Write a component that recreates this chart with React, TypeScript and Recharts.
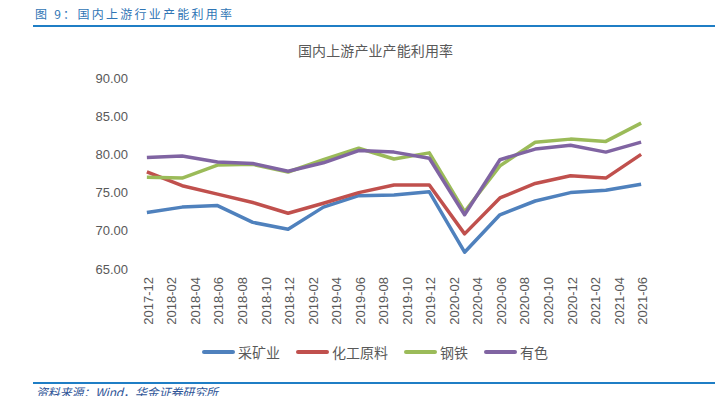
import React from 'react';
import { LineChart, Line, XAxis, YAxis } from 'recharts';

const quarters = [
  '2017-12', '2018-03', '2018-06', '2018-09', '2018-12', '2019-03', '2019-06', '2019-09',
  '2019-12', '2020-03', '2020-06', '2020-09', '2020-12', '2021-03', '2021-06',
];
const mining = [72.4, 73.1, 73.3, 71.1, 70.2, 73.1, 74.6, 74.7, 75.1, 67.2, 72.1, 73.9, 75.0, 75.3, 76.1];
const chemical = [77.7, 75.9, 74.8, 73.7, 72.3, 73.6, 75.0, 76.0, 76.0, 69.6, 74.3, 76.2, 77.2, 76.9, 80.0];
const steel = [77.0, 76.9, 78.6, 78.7, 77.7, 79.3, 80.8, 79.4, 80.2, 72.5, 78.5, 81.6, 82.0, 81.7, 84.1];
const nonferrous = [79.6, 79.8, 79.0, 78.8, 77.8, 78.9, 80.5, 80.3, 79.5, 72.1, 79.3, 80.7, 81.2, 80.3, 81.6];

const tickLabels = [
  '2017-12', '2018-02', '2018-04', '2018-06', '2018-08', '2018-10', '2018-12', '2019-02',
  '2019-04', '2019-06', '2019-08', '2019-10', '2019-12', '2020-02', '2020-04', '2020-06',
  '2020-08', '2020-10', '2020-12', '2021-02', '2021-04', '2021-06',
];
const yTicks = [65, 70, 75, 80, 85, 90];

const seriesNames = ['采矿业', '化工原料', '钢铁', '有色'];
const seriesColors = ['#4F81BD', '#C0504D', '#9BBB59', '#8064A2'];
const seriesKeys = ['mining', 'chemical', 'steel', 'nonferrous'];

const monthIndex = (s: string) => {
  const [y, m] = s.split('-').map(Number);
  return (y - 2017) * 12 + m - 12;
};

const data = quarters.map((q, i) => ({
  m: monthIndex(q),
  mining: mining[i],
  chemical: chemical[i],
  steel: steel[i],
  nonferrous: nonferrous[i],
}));

const labelTicks = tickLabels.map(monthIndex);
const tickMarks = labelTicks.map((v) => v - 0.5);
const lastMonth = monthIndex(quarters[quarters.length - 1]);
const labelByIndex: Record<number, string> = {};
tickLabels.forEach((t) => (labelByIndex[monthIndex(t)] = t));

const FONT = '"Liberation Sans", "Noto Sans CJK SC", Arial, sans-serif';
const CJK = '"Noto Sans CJK SC", "Liberation Sans", sans-serif';

const RotTick = (props: any) => {
  const { x, y, payload } = props;
  return (
    <text
      x={x}
      y={y}
      dy={1.5}
      transform={`rotate(-90 ${x} ${y})`}
      textAnchor="end"
      dominantBaseline="central"
      fill="#595959"
      fontSize={13}
      fontFamily={FONT}
    >
      {labelByIndex[payload.value]}
    </text>
  );
};

export default function App() {
  return (
    <div style={{ position: 'absolute', left: 0, top: 0, width: 724, height: 396, background: '#fff', overflow: 'hidden' }}>
      <svg width={724} height={396} style={{ position: 'absolute', left: 0, top: 0 }}>
        <text
          x={35}
          y={19}
          fontSize={12}
          fill="#2F75B5"
          fontFamily={CJK}
          textLength={197}
          lengthAdjust="spacing"
        >
          图 9：国内上游行业产能利用率
        </text>
        <rect x={33} y={25} width={682} height={2} fill="#1F7EC5" />
        <text
          x={375.5}
          y={56}
          fontSize={14}
          fill="#595959"
          fontFamily={CJK}
          textAnchor="middle"
          textLength={155}
          lengthAdjust="spacing"
        >
          国内上游产业产能利用率
        </text>
        <rect x={33} y={382} width={682} height={2} fill="#1F7EC5" />
        <text
          x={36}
          y={397}
          fontSize={12}
          fontStyle="italic"
          fill="#2F5597"
          fontFamily={CJK}
          textLength={182}
          lengthAdjust="spacing"
        >
          资料来源：Wind，华金证券研究所
        </text>
      </svg>
      <div style={{ position: 'absolute', left: 0, top: 0 }}>
        <LineChart width={724} height={396} data={data} margin={{ top: 78, right: 77, bottom: 67, left: 0 }}>
          <XAxis
            xAxisId="tk"
            type="number"
            dataKey="m"
            domain={[-0.5, lastMonth + 0.5]}
            ticks={tickMarks}
            tick={false}
            tickSize={4}
            tickLine={{ stroke: '#D9D9D9' }}
            axisLine={{ stroke: '#D9D9D9' }}
            height={0}
            interval={0}
          />
          <XAxis
            xAxisId="lbl"
            type="number"
            dataKey="m"
            domain={[-0.5, lastMonth + 0.5]}
            ticks={labelTicks}
            tick={<RotTick />}
            tickLine={false}
            axisLine={false}
            height={60}
            interval={0}
          />
          <YAxis
            type="number"
            domain={[65, 90]}
            ticks={yTicks}
            width={141}
            axisLine={false}
            tickLine={false}
            tickMargin={7}
            tickFormatter={(v: number) => v.toFixed(2)}
            tick={{ fill: '#595959', fontSize: 13, fontFamily: FONT }}
            interval={0}
          />
          {seriesKeys.map((k, i) => (
            <Line
              key={k}
              xAxisId="lbl"
              type="linear"
              dataKey={k}
              stroke={seriesColors[i]}
              strokeWidth={3.5}
              dot={false}
              activeDot={false}
              isAnimationActive={false}
              strokeLinejoin="round"
            />
          ))}
        </LineChart>
      </div>
      <div
        style={{
          position: 'absolute', left: 202, top: 343, display: 'flex', alignItems: 'center',
          fontFamily: CJK, fontSize: 14, color: '#595959', lineHeight: '18px', whiteSpace: 'nowrap',
        }}
      >
        {seriesNames.map((n, i) => (
          <div key={n} style={{ display: 'flex', alignItems: 'center', marginRight: 16 }}>
            <div style={{ width: 33, height: 4, borderRadius: 2, background: seriesColors[i], marginRight: 3 }} />
            <span>{n}</span>
          </div>
        ))}
      </div>
    </div>
  );
}
